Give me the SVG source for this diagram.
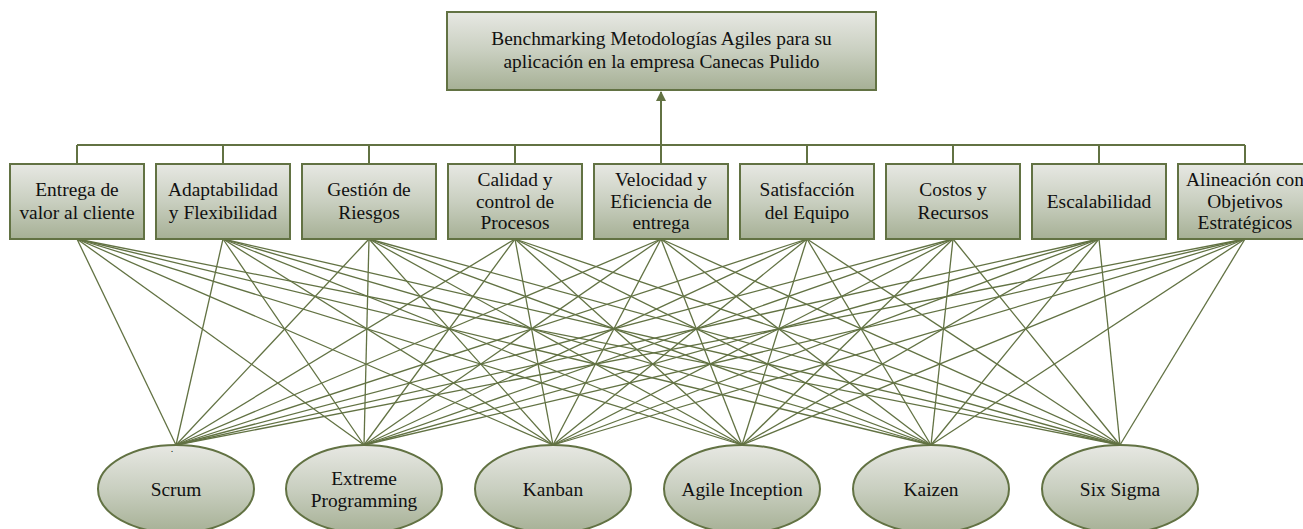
<svg xmlns="http://www.w3.org/2000/svg" width="1303" height="529" viewBox="0 0 1303 529">
<defs>
<linearGradient id="g" x1="0" y1="0" x2="0" y2="1">
<stop offset="0" stop-color="#e7e8e3"/>
<stop offset="0.5" stop-color="#c9cfc0"/>
<stop offset="1" stop-color="#a6b095"/>
</linearGradient>
<marker id="arr" markerWidth="10" markerHeight="10" refX="9" refY="5" orient="auto" markerUnits="userSpaceOnUse">
<path d="M0,0 L10,5 L0,10 z" fill="#627243"/>
</marker>
<style>
.box{fill:url(#g);stroke:#627243;stroke-width:2}
.t{font-family:'Liberation Serif','Times New Roman',serif;font-size:19.4px;fill:#111;text-anchor:middle}
.bus{stroke:#627243;stroke-width:2;fill:none}
.web{stroke:#627243;stroke-width:1.3}
</style>
</defs>
<rect width="1303" height="529" fill="#fff"/>
<g id="connectors">
<path class="bus" d="M77,145 H1245 M77,145 V164 M223,145 V164 M369,145 V164 M515,145 V164 M661,145 V164 M807,145 V164 M953,145 V164 M1099,145 V164 M1245,145 V164"/>
<line class="bus" x1="661" y1="145" x2="661" y2="92" marker-end="url(#arr)"/>
<g class="web">
<line x1="77" y1="239" x2="176" y2="445"/><line x1="77" y1="239" x2="364" y2="445"/><line x1="77" y1="239" x2="553" y2="445"/><line x1="77" y1="239" x2="742" y2="445"/><line x1="77" y1="239" x2="931" y2="445"/><line x1="77" y1="239" x2="1120" y2="445"/>
<line x1="223" y1="239" x2="176" y2="445"/><line x1="223" y1="239" x2="364" y2="445"/><line x1="223" y1="239" x2="553" y2="445"/><line x1="223" y1="239" x2="742" y2="445"/><line x1="223" y1="239" x2="931" y2="445"/><line x1="223" y1="239" x2="1120" y2="445"/>
<line x1="369" y1="239" x2="176" y2="445"/><line x1="369" y1="239" x2="364" y2="445"/><line x1="369" y1="239" x2="553" y2="445"/><line x1="369" y1="239" x2="742" y2="445"/><line x1="369" y1="239" x2="931" y2="445"/><line x1="369" y1="239" x2="1120" y2="445"/>
<line x1="515" y1="239" x2="176" y2="445"/><line x1="515" y1="239" x2="364" y2="445"/><line x1="515" y1="239" x2="553" y2="445"/><line x1="515" y1="239" x2="742" y2="445"/><line x1="515" y1="239" x2="931" y2="445"/><line x1="515" y1="239" x2="1120" y2="445"/>
<line x1="661" y1="239" x2="176" y2="445"/><line x1="661" y1="239" x2="364" y2="445"/><line x1="661" y1="239" x2="553" y2="445"/><line x1="661" y1="239" x2="742" y2="445"/><line x1="661" y1="239" x2="931" y2="445"/><line x1="661" y1="239" x2="1120" y2="445"/>
<line x1="807" y1="239" x2="176" y2="445"/><line x1="807" y1="239" x2="364" y2="445"/><line x1="807" y1="239" x2="553" y2="445"/><line x1="807" y1="239" x2="742" y2="445"/><line x1="807" y1="239" x2="931" y2="445"/><line x1="807" y1="239" x2="1120" y2="445"/>
<line x1="953" y1="239" x2="176" y2="445"/><line x1="953" y1="239" x2="364" y2="445"/><line x1="953" y1="239" x2="553" y2="445"/><line x1="953" y1="239" x2="742" y2="445"/><line x1="953" y1="239" x2="931" y2="445"/><line x1="953" y1="239" x2="1120" y2="445"/>
<line x1="1099" y1="239" x2="176" y2="445"/><line x1="1099" y1="239" x2="364" y2="445"/><line x1="1099" y1="239" x2="553" y2="445"/><line x1="1099" y1="239" x2="742" y2="445"/><line x1="1099" y1="239" x2="931" y2="445"/><line x1="1099" y1="239" x2="1120" y2="445"/>
<line x1="1245" y1="239" x2="176" y2="445"/><line x1="1245" y1="239" x2="364" y2="445"/><line x1="1245" y1="239" x2="553" y2="445"/><line x1="1245" y1="239" x2="742" y2="445"/><line x1="1245" y1="239" x2="931" y2="445"/><line x1="1245" y1="239" x2="1120" y2="445"/>
</g>
</g>
<g id="goal">
<rect class="box" x="447" y="12" width="429" height="78"/>
<text class="t" x="661.5" y="45">Benchmarking Metodologías Agiles para su</text>
<text class="t" x="661.5" y="68">aplicación en la empresa Canecas Pulido</text>
</g>
<g id="c1"><rect class="box" x="10" y="164" width="134" height="75"/><text class="t" x="77" y="196">Entrega de</text><text class="t" x="77" y="219">valor al cliente</text></g>
<g id="c2"><rect class="box" x="156" y="164" width="134" height="75"/><text class="t" x="223" y="196">Adaptabilidad</text><text class="t" x="223" y="219">y Flexibilidad</text></g>
<g id="c3"><rect class="box" x="302" y="164" width="134" height="75"/><text class="t" x="369" y="196">Gestión de</text><text class="t" x="369" y="219">Riesgos</text></g>
<g id="c4"><rect class="box" x="448" y="164" width="134" height="75"/><text class="t" x="515" y="186">Calidad y</text><text class="t" x="515" y="207.5">control de</text><text class="t" x="515" y="229">Procesos</text></g>
<g id="c5"><rect class="box" x="594" y="164" width="134" height="75"/><text class="t" x="661" y="186">Velocidad y</text><text class="t" x="661" y="207.5">Eficiencia de</text><text class="t" x="661" y="229">entrega</text></g>
<g id="c6"><rect class="box" x="740" y="164" width="134" height="75"/><text class="t" x="807" y="196">Satisfacción</text><text class="t" x="807" y="219">del Equipo</text></g>
<g id="c7"><rect class="box" x="886" y="164" width="134" height="75"/><text class="t" x="953" y="196">Costos y</text><text class="t" x="953" y="219">Recursos</text></g>
<g id="c8"><rect class="box" x="1032" y="164" width="134" height="75"/><text class="t" x="1099" y="208">Escalabilidad</text></g>
<g id="c9"><rect class="box" x="1178" y="164" width="134" height="75"/><text class="t" x="1245" y="186">Alineación con</text><text class="t" x="1245" y="207.5">Objetivos</text><text class="t" x="1245" y="229">Estratégicos</text></g>
<g id="m1"><ellipse class="box" cx="176" cy="489" rx="78" ry="44"/><text class="t" x="176" y="496">Scrum</text><text class="t" x="172" y="452" style="font-size:10px">.</text></g>
<g id="m2"><ellipse class="box" cx="364" cy="489" rx="78" ry="44"/><text class="t" x="364" y="485">Extreme</text><text class="t" x="364" y="507">Programming</text></g>
<g id="m3"><ellipse class="box" cx="553" cy="489" rx="78" ry="44"/><text class="t" x="553" y="496">Kanban</text></g>
<g id="m4"><ellipse class="box" cx="742" cy="489" rx="78" ry="44"/><text class="t" x="742" y="496">Agile Inception</text></g>
<g id="m5"><ellipse class="box" cx="931" cy="489" rx="78" ry="44"/><text class="t" x="931" y="496">Kaizen</text></g>
<g id="m6"><ellipse class="box" cx="1120" cy="489" rx="78" ry="44"/><text class="t" x="1120" y="496">Six Sigma</text></g>
</svg>
